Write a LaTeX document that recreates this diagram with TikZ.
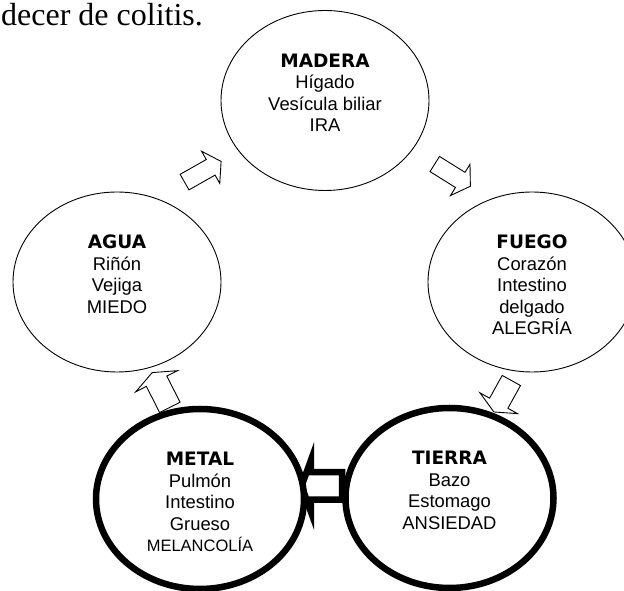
\documentclass[tikz,border=0pt]{standalone}
\usepackage{fontspec}
\setmainfont{Liberation Serif}
\setsansfont{Liberation Sans}
\newfontfamily\titfont{DejaVu Sans}
\usepackage{tikz}
\usetikzlibrary{shapes.geometric, shapes.arrows, backgrounds}

\tikzset{
  circulo/.style={ellipse, draw, fill=white, line width=0.9pt, minimum width=208pt, minimum height=180pt, inner sep=0pt, outer sep=0pt},
  grueso/.style={circulo, line width=6.5pt},
  texto/.style={align=center, anchor=north, inner sep=0pt, font=\sffamily\fontsize{18.4}{21.5}\selectfont},
  flecha/.style={single arrow, draw, fill=white, line width=0.9pt, inner xsep=0pt, inner ysep=8.5pt, minimum height=42pt, single arrow head extend=9.5pt, single arrow tip angle=114}
}
\newcommand{\tit}[1]{{\titfont\bfseries\fontsize{18.5}{21.5}\selectfont #1}}

\begin{document}
\begin{tikzpicture}[x=1pt,y=1pt]

\useasboundingbox (0,0) rectangle (624,591);

\node[anchor=base west, inner sep=0pt, font=\fontsize{32}{38}\selectfont] (frase) at (1,565) {decer de colitis.};

\node[circulo] (madera) at (325,490.5) {};
\node[circulo] (agua) at (117,309) {};
\node[circulo] (fuego) at (532,309) {};
\node[grueso] (metal) at (200,92) {};
\node[grueso] (tierra) at (449.5,93) {};

\node[texto] (tmadera) at ([yshift=-43]madera.north) {\tit{MADERA}\\ Hígado\\ Vesícula biliar\\ IRA};
\node[texto] (tagua) at ([yshift=-43]agua.north) {\tit{AGUA}\\ Riñón\\ Vejiga\\ MIEDO};
\node[texto] (tfuego) at ([yshift=-43]fuego.north) {\tit{FUEGO}\\ Corazón\\ Intestino\\ delgado\\ ALEGRÍA};
\node[texto] (tmetal) at ([yshift=-43]metal.north) {\tit{METAL}\\ Pulmón\\ Intestino\\ Grueso\\ {\fontsize{16.5}{21.5}\selectfont MELANCOLÍA}};
\node[texto] (ttierra) at ([yshift=-43]tierra.north) {\tit{TIERRA}\\ Bazo\\ Estomago\\ ANSIEDAD};

\begin{scope}[on background layer]
\node[flecha, rotate=29.5] (f1) at (200.3,417.8) {};
\node[flecha, rotate=-32] (f2) at (450.1,417.4) {};
\node[flecha, rotate=-119, minimum height=36pt, inner ysep=10pt, single arrow head extend=11pt, single arrow tip angle=130] (f3) at (503.8,196.9) {};
\node[flecha, rotate=180, line width=6.5pt, minimum height=40.5pt, inner ysep=10.5pt, single arrow head extend=12pt, single arrow tip angle=140] (f4) at (324.3,105) {};
\node[flecha, rotate=116.8, minimum height=39pt, inner ysep=11pt, single arrow head extend=12pt, single arrow tip angle=135] (f5) at (162.1,198.9) {};
\end{scope}

\end{tikzpicture}
\end{document}
